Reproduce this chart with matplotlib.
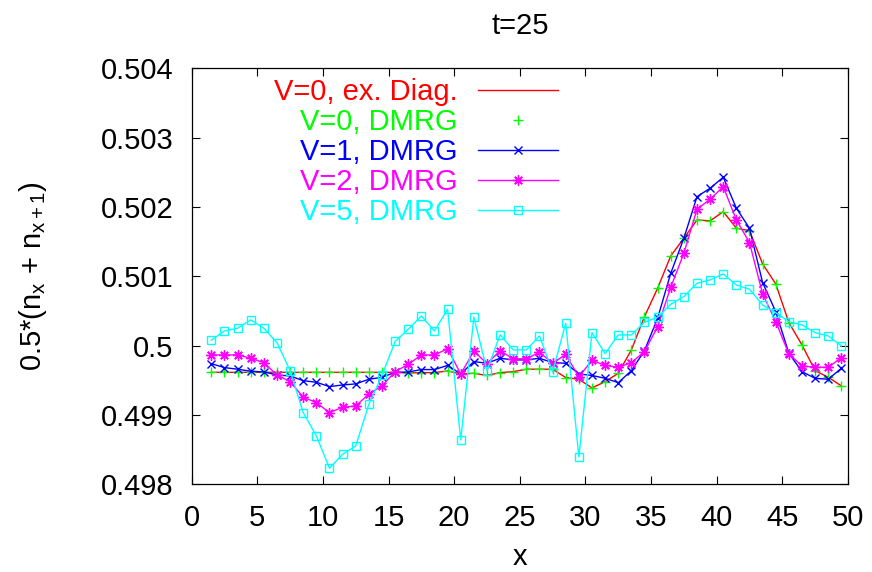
import matplotlib
matplotlib.use('Agg')
import matplotlib.pyplot as plt

plt.rcParams['font.family'] = ['Liberation Sans', 'DejaVu Sans']
plt.rcParams['mathtext.fontset'] = 'custom'
plt.rcParams['mathtext.rm'] = 'Liberation Sans'
plt.rcParams['mathtext.it'] = 'Liberation Sans'

# site positions (midpoints x+0.5)
x = [1.5, 2.5, 3.5, 4.5, 5.5, 6.5, 7.5, 8.5, 9.5, 10.5,
     11.5, 12.5, 13.5, 14.5, 15.5, 16.5, 17.5, 18.5, 19.5, 20.5,
     21.5, 22.5, 23.5, 24.5, 25.5, 26.5, 27.5, 28.5, 29.5, 30.5,
     31.5, 32.5, 33.5, 34.5, 35.5, 36.5, 37.5, 38.5, 39.5, 40.5,
     41.5, 42.5, 43.5, 44.5, 45.5, 46.5, 47.5, 48.5, 49.5]

v0_exact = [0.499615, 0.499615, 0.499615, 0.499615, 0.499615, 0.499615, 0.499615, 0.499615, 0.499615, 0.499615,
            0.499615, 0.499615, 0.499615, 0.499615, 0.499615, 0.499605, 0.499611, 0.499611, 0.499635, 0.499592,
            0.499601, 0.499570, 0.499611, 0.499625, 0.499660, 0.499660, 0.499660, 0.499540, 0.499515, 0.499390,
            0.499481, 0.499601, 0.499938, 0.500418, 0.500828, 0.501294, 0.501549, 0.501813, 0.501799, 0.501933,
            0.501693, 0.501659, 0.501178, 0.500890, 0.500332, 0.500010, 0.499639, 0.499544, 0.499419]

v0_dmrg = [0.499615, 0.499615, 0.499615, 0.499615, 0.499615, 0.499615, 0.499615, 0.499615, 0.499615, 0.499615,
           0.499615, 0.499615, 0.499615, 0.499615, 0.499615, 0.499605, 0.499611, 0.499611, 0.499635, 0.499592,
           0.499601, 0.499570, 0.499611, 0.499625, 0.499660, 0.499660, 0.499660, 0.499540, 0.499515, 0.499390,
           0.499481, 0.499601, 0.499938, 0.500418, 0.500828, 0.501294, 0.501549, 0.501813, 0.501799, 0.501933,
           0.501693, 0.501659, 0.501178, 0.500890, 0.500332, 0.500010, 0.499639, 0.499544, 0.499419]

v1_dmrg = [0.499740, 0.499683, 0.499660, 0.499631, 0.499621, 0.499577, 0.499563, 0.499495, 0.499472, 0.499409,
           0.499433, 0.499448, 0.499515, 0.499544, 0.499616, 0.499620, 0.499655, 0.499655, 0.499715, 0.499592,
           0.499770, 0.499746, 0.499818, 0.499794, 0.499794, 0.499818, 0.499755, 0.499746, 0.499592, 0.499570,
           0.499529, 0.499466, 0.499639, 0.499928, 0.500395, 0.501044, 0.501549, 0.502149, 0.502270, 0.502429,
           0.501982, 0.501693, 0.500909, 0.500490, 0.499890, 0.499625, 0.499529, 0.499515, 0.499674]

v2_dmrg = [0.499866, 0.499866, 0.499866, 0.499818, 0.499755, 0.499577, 0.499481, 0.499256, 0.499178, 0.499034,
           0.499111, 0.499130, 0.499303, 0.499419, 0.499625, 0.499730, 0.499866, 0.499866, 0.499955, 0.499592,
           0.499920, 0.499740, 0.499928, 0.499810, 0.499810, 0.499905, 0.499746, 0.499873, 0.499550, 0.499790,
           0.499715, 0.499688, 0.499755, 0.499914, 0.500274, 0.500842, 0.501332, 0.501967, 0.502111, 0.502293,
           0.501813, 0.501486, 0.500746, 0.500346, 0.499880, 0.499707, 0.499688, 0.499688, 0.499827]

v5_dmrg = [0.500078, 0.500212, 0.500251, 0.500371, 0.500251, 0.500043, 0.499639, 0.499034, 0.498698, 0.498232,
           0.498433, 0.498553, 0.499154, 0.499570, 0.500060, 0.500236, 0.500428, 0.500212, 0.500525, 0.498640,
           0.500410, 0.499640, 0.500157, 0.499938, 0.499938, 0.500140, 0.499620, 0.500323, 0.498395, 0.500188,
           0.499885, 0.500154, 0.500154, 0.500337, 0.500409, 0.500597, 0.500707, 0.500900, 0.500948, 0.501034,
           0.500875, 0.500813, 0.500587, 0.500476, 0.500346, 0.500299, 0.500188, 0.500140, 0.499996]

labels = ['V=0, ex. Diag.', 'V=0, DMRG', 'V=1, DMRG', 'V=2, DMRG', 'V=5, DMRG']

x_ticks = [0, 5, 10, 15, 20, 25, 30, 35, 40, 45, 50]
y_ticks = [0.498, 0.499, 0.5, 0.501, 0.502, 0.503, 0.504]
y_tick_labels = ['0.498', '0.499', '0.5', '0.501', '0.502', '0.503', '0.504']

FS = 21

fig = plt.figure(figsize=(8.72, 5.72), dpi=100)
ax = fig.add_axes([0.2198, 0.1533, 0.7526, 0.7273])

ax.plot(x, v0_exact, color='#ff0000', lw=1.0, label=labels[0])
ax.plot(x, v0_dmrg, ls='none', marker='+', ms=6.5, mew=1.0, color='#00ff00', label=labels[1])
ax.plot(x, v1_dmrg, color='#0000ff', lw=1.0, marker='x', ms=5.5, mew=1.0, label=labels[2])
ax.plot(x, v2_dmrg, color='#ff00ff', lw=1.0, marker=(8, 2, 0), ms=7.5, mew=1.0, label=labels[3])
ax.plot(x, v5_dmrg, color='#00ffff', lw=1.0, marker='s', mfc='none', ms=5.5, mew=1.0, label=labels[4])

ax.set_xlim(0, 50)
ax.set_ylim(0.498, 0.504)
ax.set_xticks(x_ticks)
ax.set_xticklabels([str(t) for t in x_ticks])
ax.set_yticks(y_ticks)
ax.set_yticklabels(y_tick_labels)
ax.tick_params(direction='in', length=5.5, width=0.8, top=True, right=True, labelsize=FS)
ax.tick_params(axis='x', pad=14.5)
ax.tick_params(axis='y', pad=13)
for s in ax.spines.values():
    s.set_linewidth(0.9)

leg = ax.legend(loc='upper right', bbox_to_anchor=(0.5577, 0.976), markerfirst=False,
                frameon=False, fontsize=FS, labelcolor='linecolor', handlelength=2.74,
                handletextpad=0.69, labelspacing=0.065, borderpad=0, borderaxespad=0)

fig.text(520 / 872, 1 - 26 / 572, 't=25', ha='center', va='center', fontsize=FS)
fig.text(520 / 872, 1 - 557 / 572, 'x', ha='center', va='center', fontsize=FS)
fig.text(33 / 872, 1 - 276.5 / 572, r'0.5*(n$_\mathregular{x}$ + n$_\mathregular{x+1}$)',
         ha='center', va='center', rotation=90, fontsize=FS)

fig.savefig('out.png', dpi=100)
